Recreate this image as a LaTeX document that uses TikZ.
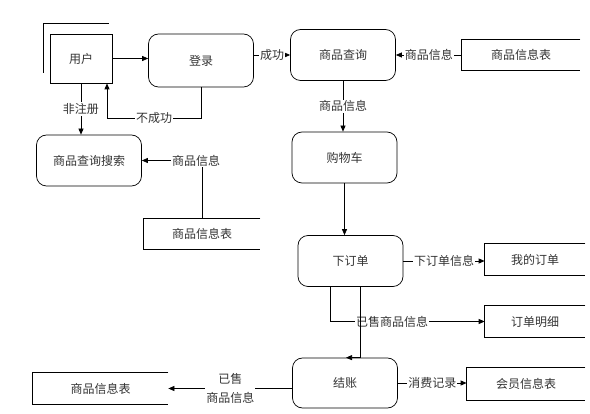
\documentclass[tikz,border=0pt]{standalone}
\usepackage{fontspec}
\setmainfont{Noto Sans CJK SC}
\usetikzlibrary{arrows.meta, calc}

\begin{document}
\begin{tikzpicture}[x=1pt, y=-1pt, line width=0.7pt,
  font=\fontsize{12}{19}\selectfont,
  entity/.style={draw, minimum width=62pt, minimum height=49pt},
  proc/.style={draw, rounded corners=10pt, minimum width=105pt, minimum height=51pt, text=black!80},
  store/.style={minimum height=31pt, text=black!80},
  flow/.style={-{Triangle[length=6pt, width=5pt]}},
  lbl/.style={fill=white, inner sep=1pt, text=black!80}]
  \useasboundingbox (0,0) rectangle (590,414);

  % external entity
  \node[entity, text=black!80] (user) at (81,58.5) {用户};
  \draw ($(user.north west)+(-6,39)$) -- ($(user.north west)+(-6,-10)$) -- ($(user.north east)+(-3,-10)$);

  % processes
  \node[proc, minimum height=53pt] (login) at (201,60.5) {登录};
  \node[proc] (query) at (343,55) {商品查询};
  \node[proc] (search) at (89,160.5) {商品查询搜索};
  \node[proc] (cart) at (344.5,157.5) {购物车};
  \node[proc] (order) at (350.5,261) {下订单};
  \node[proc, minimum height=50pt] (checkout) at (345,383) {结账};

  % data stores
  \node[store, minimum width=118pt] (infoA) at (521,55) {商品信息表};
  \node[store, minimum width=116pt] (infoB) at (202,234) {商品信息表};
  \node[store, minimum width=135pt] (infoC) at (100.5,388.5) {商品信息表};
  \node[store, minimum width=100pt] (myorder) at (535,259.5) {我的订单};
  \node[store, minimum width=100pt] (detail) at (535,321.5) {订单明细};
  \node[store, minimum width=118pt, minimum height=32pt] (member) at (526,384) {会员信息表};
  \foreach \s in {infoA, infoB, infoC, myorder, detail, member}
    \draw (\s.north east) -- (\s.north west) -- (\s.south west) -- (\s.south east);

  % flows
  \coordinate (back) at (107,118);
  \draw[flow] (user.east) -- (user.east -| login.west);
  \draw[flow] (login.east |- query.west) -- (query.west) node[lbl, midway] {成功};
  \draw[flow] (infoA.west) -- (query.east) node[lbl, midway] {商品信息};
  \draw[flow] (query.south) -- (query.south |- cart.north) node[lbl, midway] {商品信息};
  \draw[flow] (user.south) -- (user.south |- search.north) node[lbl, midway] {非注册};
  \draw[flow] (login.south) |- (back) node[lbl, pos=0.75] {不成功} -- (back |- user.south);
  \draw[flow] (infoB.north) |- (search.east) node[lbl, pos=0.5, xshift=-6pt] {商品信息};
  \draw[flow] (cart.south) -- (cart.south |- order.north);
  \draw[flow] (order.east) -- (order.east -| myorder.west) node[lbl, midway] {下订单信息};
  \draw[flow] ($(order.south)+(-20,0)$) |- (detail.west) node[lbl, pos=0.7] {已售商品信息};
  \draw[flow] ($(order.south)+(10,0)$) |- ($(checkout.north)+(1,0)$);
  \draw[flow] (checkout.west |- infoC.east) -- (infoC.east) node[lbl, midway, align=center] {已售\\商品信息};
  \draw[flow] (checkout.east) -- (checkout.east -| member.west) node[lbl, midway] {消费记录};
\end{tikzpicture}
\end{document}
